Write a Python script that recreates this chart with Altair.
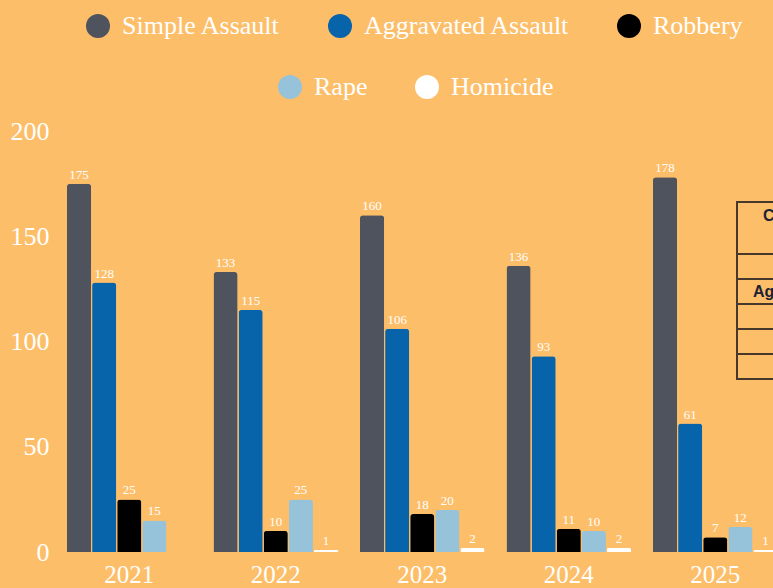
import altair as alt
import pandas as pd

# Reported incidents by year and offense type
years = ["2021", "2022", "2023", "2024", "2025"]
series = ["Simple Assault", "Aggravated Assault", "Robbery", "Rape", "Homicide"]
simple_assault = [175, 133, 160, 136, 178]
aggravated_assault = [128, 115, 106, 93, 61]
robbery = [25, 10, 18, 11, 7]
rape = [15, 25, 20, 10, 12]
homicide = [0, 1, 2, 2, 1]
colors = ["#4F535D", "#0763AA", "#000000", "#97C3DA", "#FFFFFF"]

# Inset summary table rows
table_header = "Crime Category"
table_rows = ["Simple Assault", "Aggravated Assault", "Robbery", "Rape", "Homicide"]

values_by_series = [simple_assault, aggravated_assault, robbery, rape, homicide]
records = []
for name, vals in zip(series, values_by_series):
    for yr, v in zip(years, vals):
        records.append({"year": yr, "series": name, "count": v})
df = pd.DataFrame(records)

BG = "#FDBE69"
SERIF = "Liberation Serif"
W, H = 717, 421

x_enc = alt.X("year:N", sort=years, title=None,
              scale=alt.Scale(range=[0, 732.5], paddingInner=0.15, paddingOuter=0.075),
              axis=alt.Axis(labelAngle=0, domain=False, ticks=False, labelFont=SERIF,
                            labelFontSize=25, labelColor="white", labelPadding=10))
xoff = alt.XOffset("series:N", sort=series, scale=alt.Scale(paddingInner=0.04))
y_enc = alt.Y("count:Q", title=None,
              scale=alt.Scale(domain=[0, 200], nice=False),
              axis=alt.Axis(values=[0, 50, 100, 150, 200], domain=False, ticks=False,
                            grid=False, labelFont=SERIF, labelFontSize=26,
                            labelColor="white", labelPadding=7))

base = alt.Chart(df)

bars = base.mark_bar(cornerRadiusTopLeft=3, cornerRadiusTopRight=3).encode(
    x=x_enc, xOffset=xoff, y=y_enc,
    color=alt.Color("series:N", scale=alt.Scale(domain=series, range=colors), legend=None),
)

labels = base.transform_filter("datum.count > 0").mark_text(
    font=SERIF, fontSize=13, color="white", baseline="alphabetic", dy=-5
).encode(x=x_enc, xOffset=xoff, y=y_enc, text=alt.Text("count:Q"))


def legend_layer(names, cols, lx, ly):
    leg = alt.Legend(
        title=None, orient="none", legendX=lx, legendY=ly, direction="horizontal",
        symbolType="circle", symbolSize=576, symbolStrokeWidth=0, symbolOpacity=1,
        labelFont=SERIF, labelFontSize=26, labelColor="white", labelOffset=11,
        columnPadding=46, padding=0, labelLimit=400,
    )
    return base.transform_filter("false").mark_circle().encode(
        color=alt.Color("series:N", scale=alt.Scale(domain=names, range=cols), legend=leg)
    )


legend_top = legend_layer(series[:3], colors[:3], 29, -118)
legend_bottom = legend_layer(series[3:], colors[3:], 221, -57)

# Inset table drawn at the right edge of the plot
EDGE = "#46382A"
INK = "#1C2233"
tbl_left, tbl_right = 681, 900
row_edges = [71, 123, 148, 173, 198, 223, 248]
row_text_x = [720, 697, 730, 740, 730]
table_layers = []
one = pd.DataFrame({"k": [0]})
for top, bottom in zip(row_edges[:-1], row_edges[1:]):
    table_layers.append(
        alt.Chart(one).mark_rect(fill=BG, stroke=EDGE, strokeWidth=2).encode(
            x=alt.value(tbl_left), x2=alt.value(tbl_right),
            y=alt.value(top), y2=alt.value(bottom))
    )
table_layers.append(
    alt.Chart(one).mark_text(text=table_header, font="Liberation Sans", fontWeight="bold",
                             fontSize=16, color=INK, align="left", baseline="alphabetic")
    .encode(x=alt.value(707), y=alt.value(90))
)
for i, name in enumerate(table_rows):
    top, bottom = row_edges[i + 1], row_edges[i + 2]
    table_layers.append(
        alt.Chart(one).mark_text(text=name, font="Liberation Sans", fontWeight="bold",
                                 fontSize=16, color=INK, align="left", baseline="alphabetic")
        .encode(x=alt.value(row_text_x[i]), y=alt.value((top + bottom) / 2 + 5))
    )

chart = alt.layer(bars, labels, legend_top, legend_bottom, *table_layers).resolve_scale(
    color="independent"
).properties(
    width=W, height=H,
    autosize=alt.AutoSizeParams(type="none"),
    padding={"left": 56, "top": 131, "right": 0, "bottom": 36},
    background=BG,
).configure_view(stroke=None)

chart.save("out.html", embed_options={"renderer": "svg", "actions": False})
